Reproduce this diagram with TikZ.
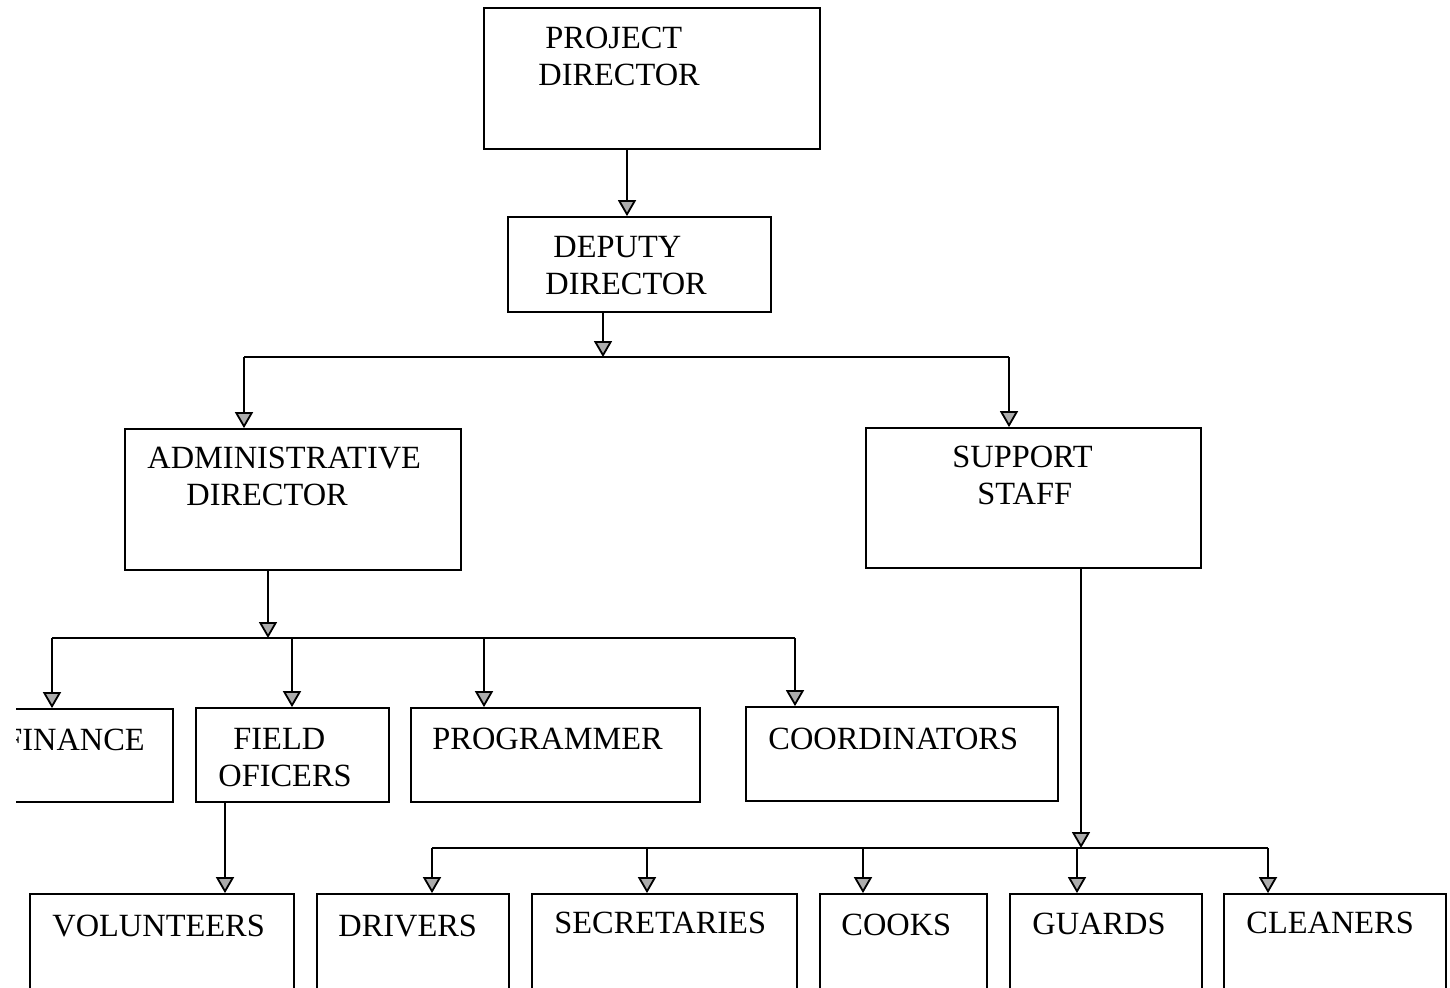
\documentclass[tikz,border=0pt]{standalone}
\usepackage{fontspec}
\setmainfont{Liberation Serif}
\usetikzlibrary{arrows.meta}
\tikzset{
  box/.style={draw, line width=0.9pt, inner sep=0pt},
  lbl/.style={anchor=base west, inner sep=0pt, align=left, font=\fontsize{16.2}{18.5}\selectfont},
  link/.style={line width=0.9pt},
  arr/.style={link, -{Triangle[width=9pt,length=8pt,fill=gray!65]}}
}
\begin{document}
\begin{tikzpicture}[x=0.5pt,y=-0.5pt]
\useasboundingbox (0,0) rectangle (1450,987);
\clip (16,0) rectangle (1450,987);

\node[box, minimum width=168pt, minimum height=70.5pt] (pd) at (652,78.5) {};
\node[box, minimum width=131.5pt, minimum height=47.5pt] (dd) at (639.5,264.5) {};
\node[box, minimum width=168pt, minimum height=70.5pt] (ad) at (293,499.5) {};
\node[box, minimum width=167.5pt, minimum height=70pt] (ss) at (1033.5,498) {};

\node[box, minimum width=91.5pt, minimum height=46.5pt] (fin) at (81.5,755.5) {};
\node[box, minimum width=96.5pt, minimum height=47pt] (fo) at (292.5,755) {};
\node[box, minimum width=144.5pt, minimum height=47pt] (prog) at (555.5,755) {};
\node[box, minimum width=156pt, minimum height=47pt] (coord) at (902,754) {};

\node[box, minimum width=132pt, minimum height=58pt] (vol) at (162,952) {};
\node[box, minimum width=96pt, minimum height=58pt] (drv) at (413,952) {};
\node[box, minimum width=132.5pt, minimum height=58pt] (sec) at (664.5,952) {};
\node[box, minimum width=83.5pt, minimum height=58pt] (cook) at (903.5,952) {};
\node[box, minimum width=96pt, minimum height=58pt] (guard) at (1106,952) {};
\node[box, minimum width=111pt, minimum height=58pt] (clean) at (1335,952) {};

\node[lbl] (tpd) at (538,85) {\hspace{3.5pt}PROJECT\\DIRECTOR};
\node[lbl] (tdd) at (545,294) {\hspace{4pt}DEPUTY\\DIRECTOR};
\node[lbl] (tad) at (147,505) {ADMINISTRATIVE\\\hspace{19.5pt}DIRECTOR};
\node[lbl] (tss) at (952,504) {SUPPORT\\\hspace{12.5pt}STAFF};
\node[lbl] (tfin) at (4,750) {FINANCE};
\node[lbl] (tfo) at (218,786) {\hspace{7.5pt}FIELD\\OFICERS};
\node[lbl] (tprog) at (432,749) {PROGRAMMER};
\node[lbl] (tcoord) at (768,749) {COORDINATORS};
\node[lbl] (tvol) at (52,936) {VOLUNTEERS};
\node[lbl] (tdrv) at (338,936) {DRIVERS};
\node[lbl] (tsec) at (554,933) {SECRETARIES};
\node[lbl] (tcook) at (841,935) {COOKS};
\node[lbl] (tguard) at (1032,934) {GUARDS};
\node[lbl] (tclean) at (1246,933) {CLEANERS};

\coordinate (j1) at (603,357);
\coordinate (j2) at (268,638);
\coordinate (j3) at (1081,848);

\draw[arr] (627,0 |- pd.south) -- (627,0 |- dd.north);
\draw[arr] (603,0 |- dd.south) -- (j1);
\draw[link] (244,0 |- j1) -- (1009,0 |- j1);
\draw[arr] (244,0 |- j1) -- (244,0 |- ad.north);
\draw[arr] (1009,0 |- j1) -- (1009,0 |- ss.north);

\draw[arr] (268,0 |- ad.south) -- (j2);
\draw[link] (52,0 |- j2) -- (795,0 |- j2);
\draw[arr] (52,0 |- j2) -- (52,0 |- fin.north);
\draw[arr] (292,0 |- j2) -- (292,0 |- fo.north);
\draw[arr] (484,0 |- j2) -- (484,0 |- prog.north);
\draw[arr] (795,0 |- j2) -- (795,0 |- coord.north);

\draw[arr] (225,0 |- fo.south) -- (225,0 |- vol.north);

\draw[arr] (j3 |- ss.south) -- (j3);
\draw[link] (432,0 |- j3) -- (1268,0 |- j3);
\draw[arr] (432,0 |- j3) -- (432,0 |- drv.north);
\draw[arr] (647,0 |- j3) -- (647,0 |- sec.north);
\draw[arr] (863,0 |- j3) -- (863,0 |- cook.north);
\draw[arr] (1077,0 |- j3) -- (1077,0 |- guard.north);
\draw[arr] (1268,0 |- j3) -- (1268,0 |- clean.north);
\end{tikzpicture}
\end{document}
